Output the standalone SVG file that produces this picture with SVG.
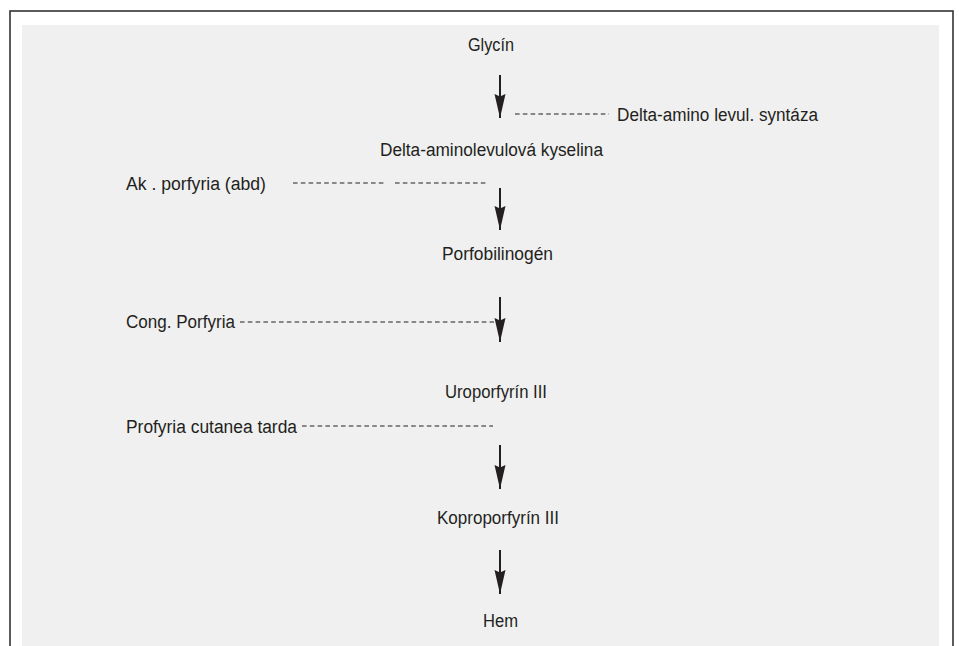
<svg xmlns="http://www.w3.org/2000/svg" width="959" height="646" viewBox="0 0 959 646">
  <defs>
    <style>
      .lbl { font-family: "Liberation Sans", Arial, sans-serif; font-size: 18px; fill: #231f20; }
      .flow { stroke: #231f20; stroke-width: 2; fill: none; }
      .dash { stroke: #231f20; stroke-width: 1.2; stroke-dasharray: 4.6 3.2; fill: none; }
    </style>
    <marker id="head" viewBox="0 0 24 12" refX="24" refY="6" markerWidth="24" markerHeight="12" markerUnits="userSpaceOnUse" orient="auto">
      <path d="M0,0.5 L24,6 L0,11.5 L2.5,6 Z" fill="#231f20"/>
    </marker>
  </defs>

  <rect x="0" y="0" width="959" height="646" fill="#ffffff"/>
  <rect x="10" y="11" width="943" height="700" fill="#ffffff" stroke="#333" stroke-width="1.6"/>
  <rect x="22" y="25" width="917" height="640" fill="#f0f0f0"/>

  <g id="connectors">
    <line class="flow" x1="500" y1="75" x2="500" y2="118" marker-end="url(#head)"/>
    <line class="flow" x1="500" y1="188" x2="500" y2="230" marker-end="url(#head)"/>
    <line class="flow" x1="500" y1="297" x2="500" y2="342" marker-end="url(#head)"/>
    <line class="flow" x1="500" y1="445" x2="500" y2="489" marker-end="url(#head)"/>
    <line class="flow" x1="500" y1="550" x2="500" y2="594" marker-end="url(#head)"/>
    <line class="dash" x1="515" y1="114" x2="609" y2="114"/>
    <line class="dash" x1="293" y1="183" x2="386" y2="183"/>
    <line class="dash" x1="395" y1="183" x2="487" y2="183"/>
    <line class="dash" x1="240" y1="322" x2="494" y2="322"/>
    <line class="dash" x1="302" y1="426" x2="493" y2="426"/>
  </g>

  <g id="glycin"><text class="lbl" x="468" y="51" textLength="46" lengthAdjust="spacingAndGlyphs">Glycín</text></g>
  <g id="syntaza"><text class="lbl" x="617" y="121" textLength="201" lengthAdjust="spacingAndGlyphs">Delta-amino levul. syntáza</text></g>
  <g id="ala"><text class="lbl" x="380" y="156" textLength="223" lengthAdjust="spacingAndGlyphs">Delta-aminolevulová kyselina</text></g>
  <g id="ak-porfyria"><text class="lbl" x="126" y="190" textLength="140" lengthAdjust="spacingAndGlyphs">Ak . porfyria (abd)</text></g>
  <g id="porfobilinogen"><text class="lbl" x="442" y="260" textLength="111" lengthAdjust="spacingAndGlyphs">Porfobilinogén</text></g>
  <g id="cong-porfyria"><text class="lbl" x="126" y="328" textLength="109" lengthAdjust="spacingAndGlyphs">Cong. Porfyria</text></g>
  <g id="uroporfyrin"><text class="lbl" x="445" y="398" textLength="102" lengthAdjust="spacingAndGlyphs">Uroporfyrín III</text></g>
  <g id="pct"><text class="lbl" x="126" y="433" textLength="171" lengthAdjust="spacingAndGlyphs">Profyria cutanea tarda</text></g>
  <g id="koproporfyrin"><text class="lbl" x="437" y="524" textLength="122" lengthAdjust="spacingAndGlyphs">Koproporfyrín III</text></g>
  <g id="hem"><text class="lbl" x="483" y="627" textLength="35" lengthAdjust="spacingAndGlyphs">Hem</text></g>
</svg>
